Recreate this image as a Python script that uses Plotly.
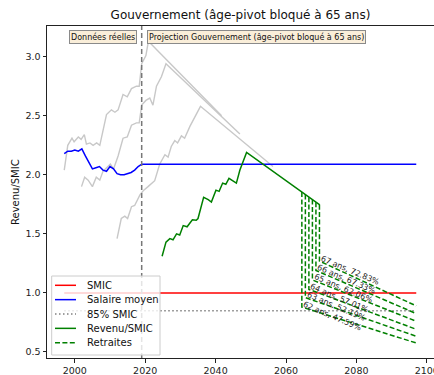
import plotly.graph_objects as go

# ---------------- data ----------------
sal_years = [1997, 1998, 1999, 2000, 2001, 2002, 2003, 2004, 2005, 2006, 2007, 2008,
             2009, 2010, 2011, 2012, 2013, 2014, 2015, 2016, 2017, 2018, 2019, 2097]
sal_values = [2.18, 2.20, 2.20, 2.21, 2.20, 2.22, 2.16, 2.10, 2.05, 2.06, 2.07, 2.04,
              2.03, 2.07, 2.05, 2.01, 2.00, 2.00, 2.01, 2.02, 2.04, 2.07, 2.09, 2.09]

smic_years = [1997, 2097]
smic_values = [1.0, 1.0]
smic85_values = [0.85, 0.85]

grayA_years = [1997, 1998, 1999.2, 1999.8, 2001, 2001.8, 2002.7, 2003.3, 2004.3, 2005.2,
               2006.2, 2007.1, 2009, 2010.4, 2011.4, 2012.3, 2013.7, 2014.9, 2016.1,
               2017.5, 2018.3, 2019, 2020.2, 2020.9, 2041.7]
grayA_values = [2.04, 2.25, 2.31, 2.28, 2.32, 2.30, 2.34, 2.26, 2.27, 2.25,
                2.27, 2.25, 2.51, 2.55, 2.53, 2.55, 2.68, 2.66, 2.73,
                2.75, 2.75, 2.94, 3.01, 3.13, 2.50]

grayB_years = [2001.9, 2002.8, 2003.8, 2005, 2006.1, 2007.1, 2008, 2009, 2010.1, 2011,
               2012.3, 2013.7, 2014.9, 2016.1, 2017.5, 2018.3, 2019, 2020.2, 2021.3,
               2022.2, 2023.2, 2024.6, 2025.9, 2046.9]
grayB_values = [1.90, 1.98, 1.955, 1.90, 1.98, 1.955, 2.03, 2.06, 2.09, 2.05,
                2.16, 2.31, 2.32, 2.42, 2.44, 2.44, 2.59, 2.63, 2.65,
                2.59, 2.75, 2.83, 2.94, 2.345]

grayC_years = [2012, 2013.2, 2014.2, 2015, 2016.1, 2017, 2018.5, 2019.6, 2020.8, 2022.7,
               2024.1, 2025.6, 2026.5, 2027.4, 2028.4, 2029.2, 2030.3, 2031.2, 2032.7,
               2034.1, 2035.7, 2056.3]
grayC_values = [1.46, 1.63, 1.65, 1.63, 1.73, 1.74, 1.83, 1.87, 1.90, 1.95,
                2.09, 2.17, 2.15, 2.24, 2.29, 2.27, 2.33, 2.31, 2.41,
                2.49, 2.58, 2.07]

rev_years = [2024.8, 2025.9, 2027, 2027.9, 2028.9, 2029.8, 2030.8, 2031.9, 2033.4, 2034.5,
             2035, 2036.6, 2037.9, 2038.8, 2040.1, 2041, 2042, 2042.9, 2043.8, 2045,
             2045.9, 2046.9, 2048.8, 2069.6]
rev_values = [1.31, 1.43, 1.46, 1.45, 1.50, 1.49, 1.57, 1.56, 1.62, 1.615,
              1.63, 1.81, 1.79, 1.77, 1.87, 1.86, 1.93, 1.92, 1.97, 1.95,
              1.93, 2.04, 2.19, 1.745]

ret_ages = [62, 63, 64, 65, 66, 67]
ret_rates = [47.59, 52.19, 57.01, 62.06, 67.33, 72.83]
ret_years = [2064.5, 2065.5, 2066.5, 2067.5, 2068.5, 2069.5]
ret_rev = [1.854, 1.833, 1.811, 1.790, 1.768, 1.747]
ret_start = [0.88, 0.96, 1.03, 1.11, 1.19, 1.27]
ret_end_year = 2097
ret_end = [0.576, 0.633, 0.692, 0.760, 0.825, 0.890]

split_year = 2019
xticks = [2000, 2020, 2040, 2060, 2080, 2100]
yticks = [0.5, 1.0, 1.5, 2.0, 2.5, 3.0]

# ---------------- layout geometry ----------------
W, H = 434, 375
L, R, T, B = 47, 434, 26, 358
FONT = "DejaVu Sans"


def px(x):
    return (x - L) / (R - L)


def py(y):
    return (B - y) / (B - T)


fig = go.Figure()

GRAY = "rgb(200,200,200)"
for xs, ys in [(grayA_years, grayA_values), (grayB_years, grayB_values), (grayC_years, grayC_values)]:
    fig.add_trace(go.Scatter(x=xs, y=ys, mode="lines", line=dict(color=GRAY, width=1.4),
                             showlegend=False, hoverinfo="skip"))

fig.add_trace(go.Scatter(x=smic_years, y=smic_values, mode="lines",
                         line=dict(color="#ff0000", width=1.5), name="SMIC", showlegend=False))
fig.add_trace(go.Scatter(x=sal_years, y=sal_values, mode="lines",
                         line=dict(color="#0000ff", width=1.5), name="Salaire moyen", showlegend=False))
fig.add_trace(go.Scatter(x=smic_years, y=smic85_values, mode="lines",
                         line=dict(color="#808080", width=1.5, dash="1.5px,2.5px"),
                         name="85% SMIC", showlegend=False))
fig.add_trace(go.Scatter(x=rev_years, y=rev_values, mode="lines",
                         line=dict(color="#008000", width=1.5), name="Revenu/SMIC", showlegend=False))

for i in range(len(ret_ages)):
    fig.add_trace(go.Scatter(x=[ret_years[i], ret_years[i], ret_end_year],
                             y=[ret_rev[i], ret_start[i], ret_end[i]], mode="lines",
                             line=dict(color="#008000", width=1.5, dash="5px,2.4px"),
                             name="Retraites", showlegend=False))

annotations = []
shapes = []

# vertical split line
shapes.append(dict(type="line", xref="x", yref="paper", x0=split_year, x1=split_year, y0=0, y1=1,
                   line=dict(color="#777777", width=1.5, dash="5px,3px"), layer="above"))

# retirement labels
for i in range(len(ret_ages)):
    annotations.append(dict(x=ret_years[i], y=ret_start[i], xref="x", yref="y",
                            text=f"{ret_ages[i]} ans, {ret_rates[i]:.2f}%", showarrow=False,
                            textangle=23, xanchor="center", yanchor="middle",
                            xshift=31, yshift=-9,
                            font=dict(family=FONT, size=8, color="#222222")))

# period boxes
box_style = dict(bgcolor="rgb(250,238,217)", bordercolor="#8a8a8a", borderwidth=1, borderpad=1,
                 font=dict(family=FONT, size=8, color="#111111"), showarrow=False)
annotations.append(dict(x=split_year, y=1, xref="x", yref="paper", text="Données réelles",
                        xanchor="right", yanchor="top", xshift=-5, yshift=-4, **box_style))
annotations.append(dict(x=split_year, y=1, xref="x", yref="paper",
                        text="Projection Gouvernement (âge-pivot bloqué à 65 ans)",
                        xanchor="left", yanchor="top", xshift=5, yshift=-4, **box_style))

# y-axis title
annotations.append(dict(x=px(15), y=py((B + T) / 2), xref="paper", yref="paper", text="Revenu/SMIC",
                        textangle=-90, showarrow=False, xanchor="center", yanchor="middle",
                        font=dict(family=FONT, size=10, color="#111111")))

# manual legend
shapes.append(dict(type="rect", xref="paper", yref="paper", x0=px(51.7), x1=px(160), y0=py(355), y1=py(276),
                   fillcolor="rgba(255,255,255,0.8)", line=dict(color="#cccccc", width=1), layer="above"))
legend_items = [
    ("SMIC", "#ff0000", "solid"),
    ("Salaire moyen", "#0000ff", "solid"),
    ("85% SMIC", "#808080", "1.5px,2.5px"),
    ("Revenu/SMIC", "#008000", "solid"),
    ("Retraites", "#008000", "5px,2.4px"),
]
for k, (lab, col, dash) in enumerate(legend_items):
    yc = 285.3 + 14.35 * k
    shapes.append(dict(type="line", xref="paper", yref="paper", x0=px(55), x1=px(76), y0=py(yc), y1=py(yc),
                       line=dict(color=col, width=1.5, dash=dash), layer="above"))
    annotations.append(dict(x=px(85), y=py(yc), xref="paper", yref="paper", text=lab, showarrow=False,
                            xanchor="left", yanchor="middle",
                            font=dict(family=FONT, size=10, color="#111111")))

xmin = 1992.1
xmax = xmin + (R - L) / 3.52

fig.update_layout(
    width=W, height=H,
    margin=dict(l=L, r=W - R, t=T, b=H - B, pad=0),
    paper_bgcolor="white", plot_bgcolor="white",
    showlegend=False,
    hovermode=False,
    title=dict(text="Gouvernement (âge-pivot bloqué à 65 ans)", x=(L + R) / 2 / W, xanchor="center",
               y=1 - 14.5 / H, yanchor="middle", yref="container",
               font=dict(family=FONT, size=12, color="#111111")),
    font=dict(family=FONT, size=9.5, color="#222222"),
    xaxis=dict(range=[xmin, xmax], tickvals=xticks, ticktext=[str(v) for v in xticks],
               showgrid=False, zeroline=False, showline=True, linecolor="#222222", linewidth=1,
               mirror=True, ticks="outside", ticklen=3.5, tickcolor="#222222", tickwidth=1,
               automargin=False, ticklabeloverflow="allow",
               tickfont=dict(family=FONT, size=9.5, color="#222222")),
    yaxis=dict(range=[0.449, 3.260], tickvals=yticks, ticktext=[f"{v:.1f}" for v in yticks],
               showgrid=False, zeroline=False, showline=True, linecolor="#222222", linewidth=1,
               ticks="outside", ticklen=3.5, tickcolor="#222222", tickwidth=1,
               automargin=False,
               tickfont=dict(family=FONT, size=9.5, color="#222222")),
    annotations=annotations,
    shapes=shapes,
)

fig.write_html("out.html", config={"displayModeBar": False, "staticPlot": True},
               post_script="document.body.style.margin='0px';document.body.style.padding='0px';")
